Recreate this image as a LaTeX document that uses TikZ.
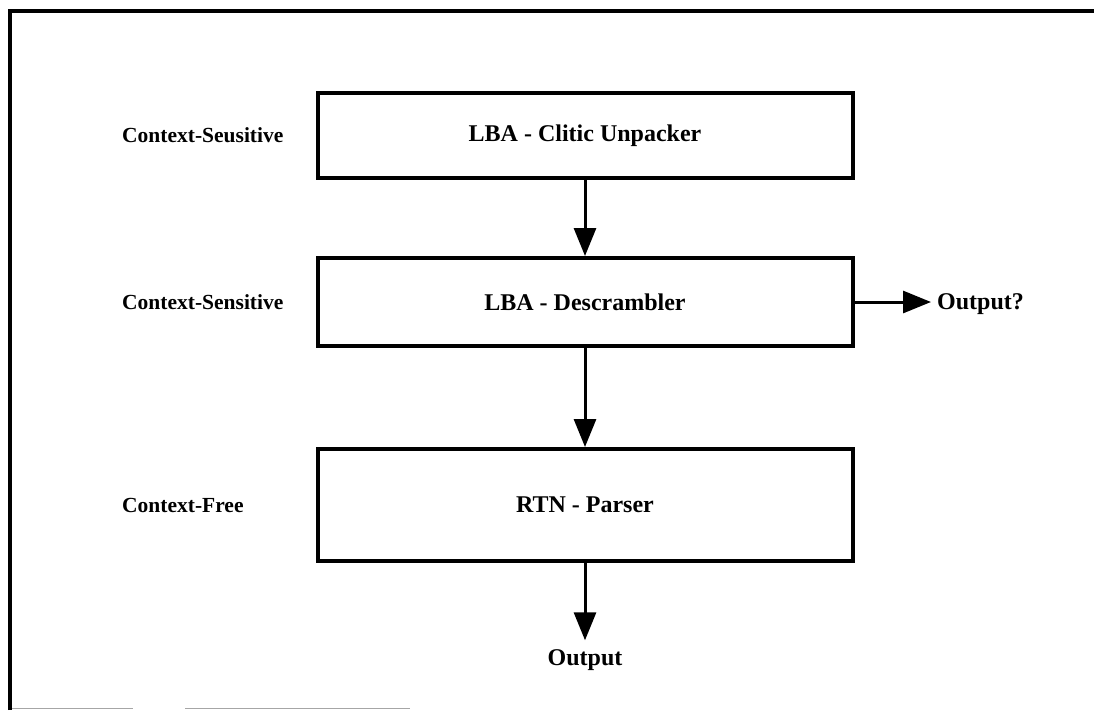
\documentclass[tikz,border=0pt]{standalone}
\usepackage{fontspec}
\setmainfont{Liberation Serif}
\usetikzlibrary{arrows.meta}
\begin{document}
\begin{tikzpicture}[x=1pt,y=-1pt,
  stage/.style={draw, line width=4pt, minimum width=535pt, inner sep=0pt,
    font=\fontsize{24}{26}\selectfont\bfseries},
  level/.style={anchor=west, inner sep=0pt, font=\fontsize{21.5}{24}\selectfont\bfseries},
  outlabel/.style={inner sep=0pt, font=\fontsize{24}{26}\selectfont\bfseries},
  flow/.style={line width=3pt, -{Triangle[length=28pt,width=22pt]}}]
  \useasboundingbox (0,0) rectangle (1094,710);
  % frame
  \draw[line width=4pt] (10,710) -- (10,11) -- (1094,11);
  \draw[line width=1.5pt, black!35] (12,708.5) -- (133,708.5) (185,708.5) -- (410,708.5);
  % stages
  \node[stage, minimum height=85pt] (unpack) at (585,135.5) {LBA - Clitic Unpacker};
  \node[stage, minimum height=88pt] (descr) at (585,302) {LBA - Descrambler};
  \node[stage, minimum height=112pt] (parser) at (585,505) {RTN - Parser};
  % grammar levels
  \node[level] (l1) at (122,135.5) {Context-Seusitive};
  \node[level] (l2) at (122,302) {Context-Sensitive};
  \node[level] (l3) at (122,505) {Context-Free};
  % outputs
  \node[outlabel, anchor=west] (out1) at (937,304) {Output?};
  \node[outlabel] (out2) at (585,660) {Output};
  % connectors
  \draw[flow] (unpack.south) -- (descr.north);
  \draw[flow] (descr.south) -- (parser.north);
  \draw[flow] (parser.south) -- ([yshift=9pt]out2.north);
  \draw[flow] (descr.east) -- ([xshift=-6pt]out1.west |- descr.east);
\end{tikzpicture}
\end{document}
